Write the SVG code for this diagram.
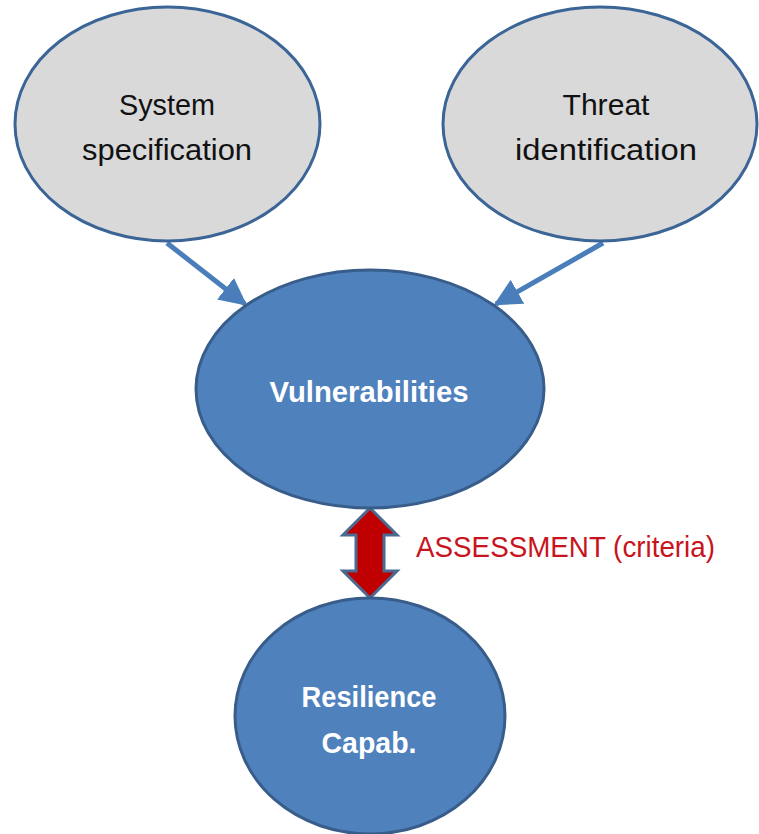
<svg xmlns="http://www.w3.org/2000/svg" width="759" height="834" viewBox="0 0 759 834">
  <defs>
    <style>
      .gray { fill: #D9D9D9; stroke: #3B6596; stroke-width: 3; }
      .blue { fill: #4F81BD; stroke: #385D8A; stroke-width: 3; }
      .dark { font-family: "Liberation Sans", Arial, sans-serif; font-size: 30px; fill: #111111; text-anchor: middle; }
      .light { font-family: "Liberation Sans", Arial, sans-serif; font-size: 30px; font-weight: bold; fill: #FFFFFF; text-anchor: middle; }
      .conn { stroke: #4A7EBB; stroke-width: 5; fill: none; }
      .label { font-family: "Liberation Sans", Arial, sans-serif; font-size: 29px; fill: #C8141E; }
    </style>
    <marker id="ah" viewBox="0 0 10 10" refX="9" refY="5" markerWidth="5.5" markerHeight="5.5" orient="auto" markerUnits="strokeWidth">
      <path d="M0,0 L10,5 L0,10 Z" fill="#4A7EBB"/>
    </marker>
  </defs>
  <rect width="759" height="834" fill="#FFFFFF"/>

  <g id="connectors">
    <line class="conn" x1="167" y1="243" x2="245" y2="304" marker-end="url(#ah)"/>
    <line class="conn" x1="603" y1="243" x2="496" y2="304" marker-end="url(#ah)"/>
    <path d="M370,508 L397,535 L384,535 L384,571 L397,571 L370,598 L343,571 L356,571 L356,535 L343,535 Z" fill="#C00000" stroke="#4A6A92" stroke-width="3" stroke-linejoin="miter"/>
    <text class="label" x="416" y="557" textLength="299" lengthAdjust="spacingAndGlyphs">ASSESSMENT (criteria)</text>
  </g>

  <g id="system-specification">
    <ellipse class="gray" cx="167.5" cy="124" rx="152.5" ry="117"/>
    <text class="dark" x="167" y="115" textLength="96" lengthAdjust="spacingAndGlyphs">System</text>
    <text class="dark" x="167" y="160" textLength="170" lengthAdjust="spacingAndGlyphs">specification</text>
  </g>

  <g id="threat-identification">
    <ellipse class="gray" cx="600" cy="124" rx="157" ry="117"/>
    <text class="dark" x="606" y="115" textLength="87" lengthAdjust="spacingAndGlyphs">Threat</text>
    <text class="dark" x="606" y="160" textLength="182" lengthAdjust="spacingAndGlyphs">identification</text>
  </g>

  <g id="vulnerabilities">
    <ellipse class="blue" cx="370" cy="389" rx="174" ry="119"/>
    <text class="light" x="369" y="402" textLength="199" lengthAdjust="spacingAndGlyphs">Vulnerabilities</text>
  </g>

  <g id="resilience-capab">
    <ellipse class="blue" cx="370" cy="716" rx="135" ry="118"/>
    <text class="light" x="369" y="707" textLength="135" lengthAdjust="spacingAndGlyphs">Resilience</text>
    <text class="light" x="369" y="753" textLength="95" lengthAdjust="spacingAndGlyphs">Capab.</text>
  </g>
</svg>
